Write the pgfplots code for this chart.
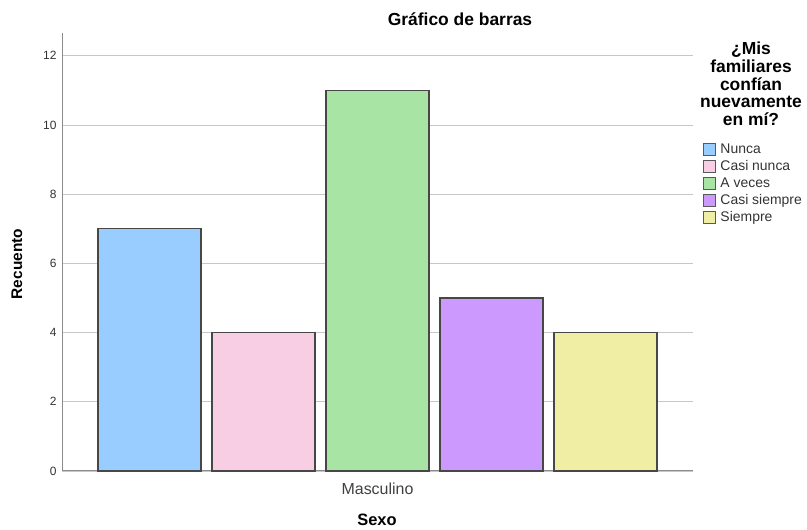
\documentclass[border=0pt]{standalone}
\usepackage{pgfplots}
\pgfplotsset{compat=1.18}
\usepackage{fontspec}
\setmainfont{Liberation Sans}
\definecolor{cNunca}{RGB}{153,204,255}
\definecolor{cCasiNunca}{RGB}{248,206,228}
\definecolor{cAveces}{RGB}{168,228,164}
\definecolor{cCasiSiempre}{RGB}{204,153,255}
\definecolor{cSiempre}{RGB}{240,238,164}
\pgfplotsset{
  mybar/.style={ybar, bar width=103bp, bar shift=0pt, fill=#1, draw=black!72, line width=1.1pt,
    legend image code/.code={\draw[fill=#1, draw=black!65, line width=0.8pt] (0bp,-6bp) rectangle (12bp,6bp);}},
}
\begin{document}
\begin{tikzpicture}[x=1bp,y=1bp]
\path[use as bounding box] (0,0) rectangle (807,530);
\begin{axis}[
  at={(62bp,59bp)}, anchor=south west, scale only axis,
  width=631bp, height=438bp,
  xmin=-0.768, xmax=4.768, ymin=0, ymax=12.66,
  axis lines*=left,
  axis line style={draw=black!45, line width=1pt},
  ymajorgrids, grid style={draw=black!22, line width=0.8pt},
  ytick={0,2,4,6,8,10,12},
  xtick={2}, xticklabels={Masculino},
  major tick length=0pt,
  /pgf/number format/assume math mode=true,
  yticklabel style={font=\fontsize{12}{12}\selectfont, text=black!80, xshift=-2bp},
  xticklabel style={font=\fontsize{16}{16}\selectfont, text=black!75, yshift=-8bp},
  legend style={at={(1.0158,0.751)}, anchor=north west, draw=none, fill=none,
    font=\fontsize{14}{14}\selectfont, text=black!80, row sep=2.6bp,
    inner sep=0pt, nodes={inner sep=1.5bp},
    /tikz/every odd column/.append style={column sep=3bp}},
  legend cell align=left,
  clip=false,
]
\addplot[mybar=cNunca] coordinates {(0,7)};
\addlegendentry{Nunca}
\addplot[mybar=cCasiNunca] coordinates {(1,4)};
\addlegendentry{Casi nunca}
\addplot[mybar=cAveces] coordinates {(2,11)};
\addlegendentry{A veces}
\addplot[mybar=cCasiSiempre] coordinates {(3,5)};
\addlegendentry{Casi siempre}
\addplot[mybar=cSiempre] coordinates {(4,4)};
\addlegendentry{Siempre}
\end{axis}
\node[font=\bfseries\fontsize{17.5}{17.5}\selectfont] at (460,511) {Gráfico de barras};
\node[font=\bfseries\fontsize{15.5}{15.5}\selectfont, rotate=90] at (17,266) {Recuento};
\node[font=\bfseries\fontsize{16.5}{16.5}\selectfont] at (377,10) {Sexo};
\node[align=center, font=\bfseries\fontsize{17.5}{17.8}\selectfont] at (751,446) {¿Mis\\familiares\\confían\\nuevamente\\en mí?};
\end{tikzpicture}
\end{document}
